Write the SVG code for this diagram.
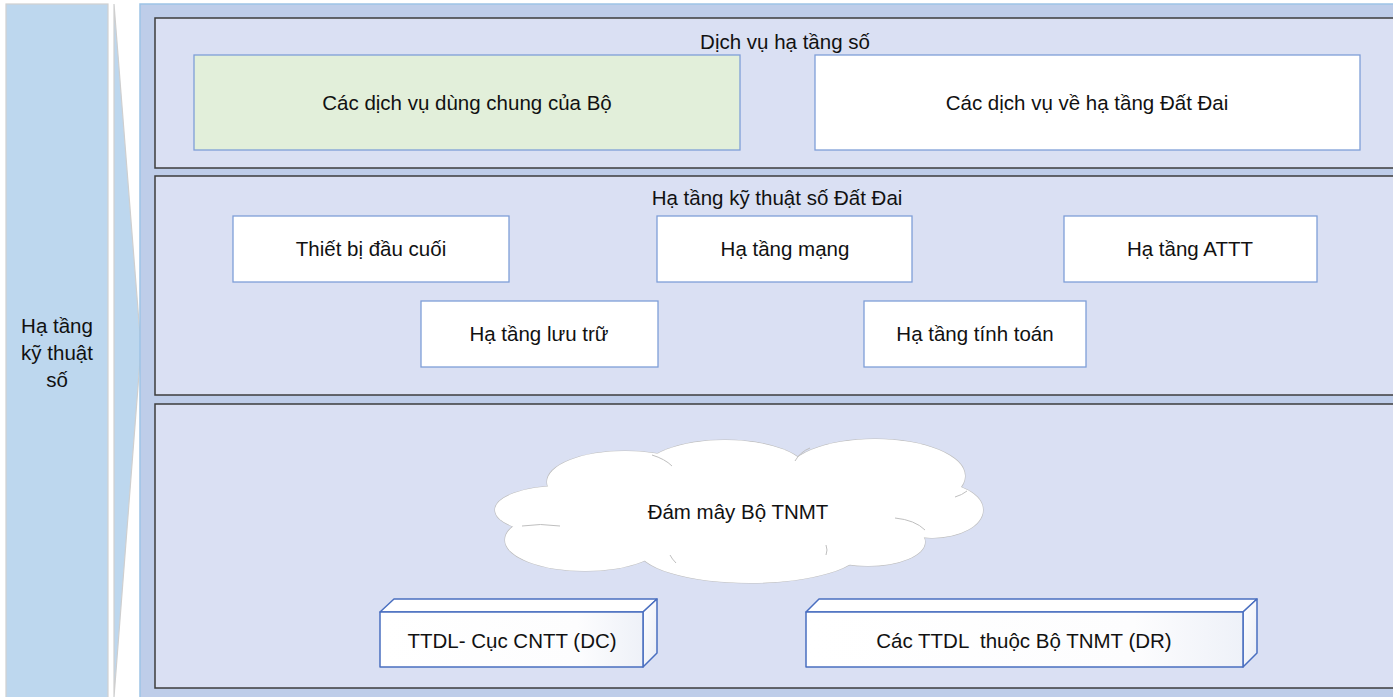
<svg xmlns="http://www.w3.org/2000/svg" width="1393" height="697" viewBox="0 0 1393 697">
<style>
text{font-family:"Liberation Sans",Arial,sans-serif;font-size:20.5px;fill:#111;text-anchor:middle}
.panel{fill:#DAE0F3;stroke:#3C3C3C;stroke-width:1.5}
.box{fill:#FFFFFF;stroke:#7F9FD8;stroke-width:1.3}
.cube{stroke:#4A6FC0;stroke-width:1.5;stroke-linejoin:round}
.cl{fill:#FFFFFF;stroke:#BFBFBF;stroke-width:1.2}
.clf{fill:#FFFFFF;stroke:none}
</style>
<defs>
<linearGradient id="gf" x1="0" y1="0" x2="1" y2="0">
<stop offset="0" stop-color="#FFFFFF"/><stop offset="0.75" stop-color="#FDFDFE"/><stop offset="1" stop-color="#EEF1F8"/>
</linearGradient>
<linearGradient id="gs" x1="0" y1="0" x2="1" y2="1">
<stop offset="0" stop-color="#FFFFFF"/><stop offset="1" stop-color="#E8ECF6"/>
</linearGradient>
</defs>
<rect width="1393" height="697" fill="#FFFFFF"/>

<g id="left-label">
<rect x="6" y="4" width="102" height="700" fill="#BDD7EE" stroke="#D0D0D0" stroke-width="1.2"/>
<text x="57" y="333">Hạ tầng</text>
<text x="57" y="360">kỹ thuật</text>
<text x="57" y="387">số</text>
</g>

<g id="wedge">
<path d="M114,4 L141,348 L114,697 Z" fill="#BDD7EE" stroke="#CFCFCF" stroke-width="1.2"/>
</g>

<g id="outer">
<rect x="140" y="4" width="1260" height="700" fill="#BECDE9" stroke="#9DC3E6" stroke-width="1.5"/>
</g>

<g id="panel-services">
<rect class="panel" x="155" y="18" width="1245" height="150"/>
<text x="785" y="49">Dịch vụ hạ tầng số</text>
</g>
<g id="node-shared">
<rect x="194" y="55" width="546" height="95" fill="#E2EFDA" stroke="#7F9FD8" stroke-width="1.3"/>
<text x="467" y="110">Các dịch vụ dùng chung của Bộ</text>
</g>
<g id="node-land">
<rect class="box" x="815" y="55" width="545" height="95"/>
<text x="1087" y="110">Các dịch vụ về hạ tầng Đất Đai</text>
</g>

<g id="panel-infra">
<rect class="panel" x="155" y="176" width="1245" height="219"/>
<text x="777" y="205">Hạ tầng kỹ thuật số Đất Đai</text>
</g>
<g id="node-terminal">
<rect class="box" x="233" y="216" width="276" height="66"/>
<text x="371" y="256">Thiết bị đầu cuối</text>
</g>
<g id="node-network">
<rect class="box" x="657" y="216" width="255" height="66"/>
<text x="785" y="256">Hạ tầng mạng</text>
</g>
<g id="node-security">
<rect class="box" x="1064" y="216" width="253" height="66"/>
<text x="1190" y="256">Hạ tầng ATTT</text>
</g>
<g id="node-storage">
<rect class="box" x="421" y="301" width="237" height="66"/>
<text x="539" y="341">Hạ tầng lưu trữ</text>
</g>
<g id="node-compute">
<rect class="box" x="864" y="301" width="222" height="66"/>
<text x="975" y="341">Hạ tầng tính toán</text>
</g>

<g id="panel-cloud">
<rect class="panel" x="155" y="404" width="1245" height="284"/>
</g>

<g id="node-cloud">
<ellipse class="cl" cx="560" cy="510" rx="65" ry="24"/>
<ellipse class="cl" cx="585" cy="540" rx="80" ry="31"/>
<ellipse class="cl" cx="625" cy="482" rx="78" ry="31"/>
<ellipse class="cl" cx="725" cy="472" rx="82" ry="32"/>
<ellipse class="cl" cx="875" cy="476" rx="90" ry="37"/>
<ellipse class="cl" cx="932" cy="510" rx="51" ry="28"/>
<ellipse class="cl" cx="868" cy="542" rx="57" ry="24"/>
<ellipse class="cl" cx="750" cy="549" rx="112" ry="34"/>
<ellipse class="clf" cx="560" cy="510" rx="65" ry="24"/>
<ellipse class="clf" cx="585" cy="540" rx="80" ry="31"/>
<ellipse class="clf" cx="625" cy="482" rx="78" ry="31"/>
<ellipse class="clf" cx="725" cy="472" rx="82" ry="32"/>
<ellipse class="clf" cx="875" cy="476" rx="90" ry="37"/>
<ellipse class="clf" cx="932" cy="510" rx="51" ry="28"/>
<ellipse class="clf" cx="868" cy="542" rx="57" ry="24"/>
<ellipse class="clf" cx="750" cy="549" rx="112" ry="34"/>
<ellipse class="clf" cx="740" cy="510" rx="200" ry="46"/>
<path d="M522,526 Q540,523 560,526" fill="none" stroke="#BFBFBF" stroke-width="1"/>
<path d="M652,455 Q665,459 672,466" fill="none" stroke="#BFBFBF" stroke-width="1"/>
<path d="M795,461 Q800,452 810,448" fill="none" stroke="#BFBFBF" stroke-width="1"/>
<path d="M955,497 Q962,495 967,491" fill="none" stroke="#BFBFBF" stroke-width="1"/>
<path d="M895,518 Q915,520 925,530" fill="none" stroke="#BFBFBF" stroke-width="1"/>
<path d="M826,555 Q828,550 826,545" fill="none" stroke="#BFBFBF" stroke-width="1"/>
<path d="M676,563 Q672,559 670,555" fill="none" stroke="#BFBFBF" stroke-width="1"/>
<text x="738" y="519">Đám mây Bộ TNMT</text>
</g>

<g id="node-dc">
<path class="cube" d="M380,612 L394,599 L657,599 L643,612 Z" fill="#FFFFFF"/>
<path class="cube" d="M643,612 L657,599 L657,653 L643,667 Z" fill="url(#gs)"/>
<rect class="cube" x="380" y="612" width="263" height="55" fill="url(#gf)"/>
<text x="512" y="648">TTDL- Cục CNTT (DC)</text>
</g>

<g id="node-dr">
<path class="cube" d="M806,612 L819,599 L1257,599 L1243,612 Z" fill="#FFFFFF"/>
<path class="cube" d="M1243,612 L1257,599 L1257,653 L1243,667 Z" fill="url(#gs)"/>
<rect class="cube" x="806" y="612" width="437" height="55" fill="url(#gf)"/>
<text x="1024" y="648" xml:space="preserve">Các TTDL  thuộc Bộ TNMT (DR)</text>
</g>

<g id="connectors"></g>
</svg>
